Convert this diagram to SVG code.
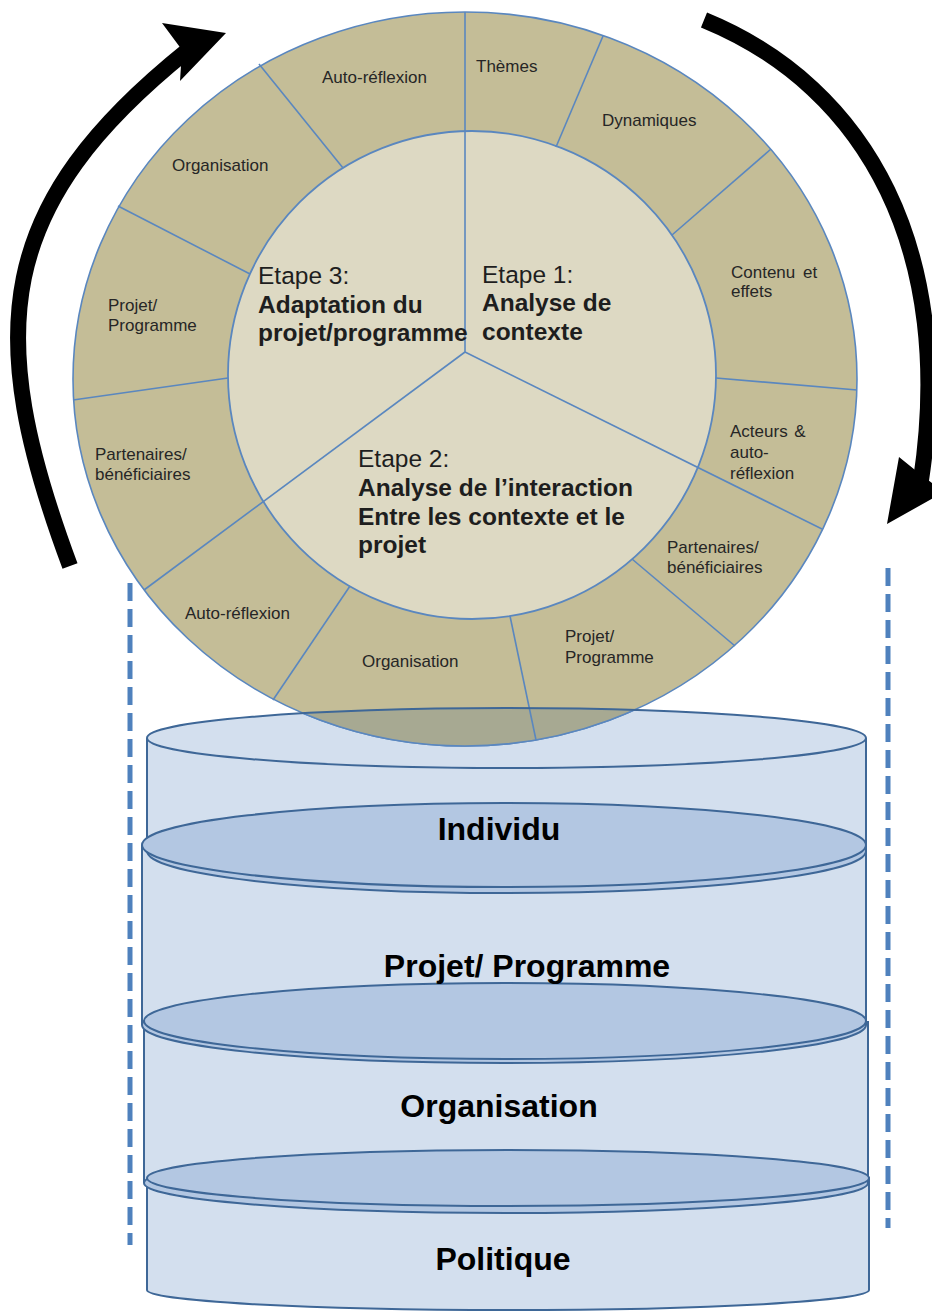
<svg xmlns="http://www.w3.org/2000/svg" width="932" height="1312" viewBox="0 0 932 1312">
<style>
.ring{font-family:"Liberation Sans",Arial,sans-serif;font-size:17px;fill:#262626}
.step{font-family:"Liberation Sans",Arial,sans-serif;font-size:24.5px;fill:#1e1e1e}
.b{font-weight:bold}
.cyl{font-family:"Liberation Sans",Arial,sans-serif;font-size:32px;font-weight:bold;fill:#000;text-anchor:middle}
.body{fill:#D3DFEE;stroke:none}
.side{stroke:#3E6797;stroke-width:2;fill:none}
.top{fill:#B3C7E2;stroke:#3E6797;stroke-width:2}
.div{stroke:#5A87BF;stroke-width:1.6;fill:none}
.dash{stroke:#4F81BD;stroke-width:5;stroke-dasharray:18 8;fill:none}
.arr{stroke:#000;stroke-width:16;fill:none}
</style>
<defs>
<clipPath id="capA"><ellipse cx="506.5" cy="738" rx="359.5" ry="30"/></clipPath>
</defs>
<rect width="932" height="1312" fill="#fff"/>

<g id="cylinders">
<g id="cyl-politique">
<path d="M147,1178 V1290 A361,20 0 0 0 869,1290 V1178 Z" fill="#D3DFEE" stroke="#3E6797" stroke-width="2"/>
</g>
<g id="cyl-organisation">
<rect class="body" x="144" y="1021" width="724" height="162"/>
<path class="side" d="M144,1021 V1183 M868,1021 V1183"/>
</g>
<g id="cyl-projet">
<rect class="body" x="142" y="845" width="724" height="180"/>
<path class="side" d="M142,845 V1025 M866,845 V1025"/>
</g>
<g id="cyl-individu">
<rect class="body" x="147" y="738" width="719" height="113"/>
<path class="side" d="M147,738 V851 M866,738 V851"/>
<ellipse cx="506.5" cy="738" rx="359.5" ry="30" fill="#D3DFEE" stroke="none"/>
</g>
<g id="cyl-caps">
<ellipse class="top" cx="506.5" cy="851" rx="359.5" ry="42"/>
<ellipse class="top" cx="504" cy="845" rx="362" ry="42"/>
<ellipse class="top" cx="504" cy="1025" rx="362" ry="38"/>
<ellipse class="top" cx="505" cy="1021" rx="361" ry="38"/>
<ellipse class="top" cx="506" cy="1183" rx="362" ry="30"/>
<ellipse class="top" cx="508" cy="1178" rx="361" ry="28"/>
</g>
<g id="cyl-labels">
<text class="cyl" x="499" y="840">Individu</text>
<text class="cyl" x="527" y="977">Projet/ Programme</text>
<text class="cyl" x="499" y="1117">Organisation</text>
<text class="cyl" x="503" y="1270">Politique</text>
</g>
</g>

<g id="wheel">
<ellipse cx="465" cy="379" rx="392" ry="367" fill="#C4BD97" stroke="#5A87BF" stroke-width="1.6"/>
<circle cx="472" cy="375" r="244" fill="#DDD9C3" stroke="#5A87BF" stroke-width="1.8"/>
<ellipse cx="465" cy="379" rx="392" ry="367" fill="#A7A992" stroke="#5A87BF" stroke-width="1.6" clip-path="url(#capA)"/>
<g id="wheel-dividers">
<line class="div" x1="556" y1="147" x2="603" y2="36"/>
<line class="div" x1="672" y1="235" x2="771" y2="149"/>
<line class="div" x1="716" y1="378" x2="857" y2="390"/>
<line class="div" x1="465" y1="352" x2="822" y2="529"/>
<line class="div" x1="632" y1="559" x2="735" y2="646"/>
<line class="div" x1="510" y1="616" x2="536" y2="740"/>
<line class="div" x1="350" y1="586" x2="273" y2="700"/>
<line class="div" x1="465" y1="352" x2="144" y2="590"/>
<line class="div" x1="228" y1="378" x2="73" y2="400"/>
<line class="div" x1="250" y1="274" x2="118" y2="206"/>
<line class="div" x1="343" y1="168" x2="259" y2="64"/>
<line class="div" x1="465" y1="352" x2="465" y2="12"/>
</g>
<g id="ring-labels">
<text class="ring" x="322" y="83">Auto-réflexion</text>
<text class="ring" x="476" y="72">Thèmes</text>
<text class="ring" x="602" y="126">Dynamiques</text>
<text class="ring" x="731" y="278" word-spacing="3">Contenu et</text>
<text class="ring" x="731" y="297">effets</text>
<text class="ring" x="730" y="437" word-spacing="2">Acteurs &amp;</text>
<text class="ring" x="730" y="458">auto-</text>
<text class="ring" x="730" y="479">réflexion</text>
<text class="ring" x="667" y="553">Partenaires/</text>
<text class="ring" x="667" y="573">bénéficiaires</text>
<text class="ring" x="565" y="642">Projet/</text>
<text class="ring" x="565" y="663">Programme</text>
<text class="ring" x="362" y="667">Organisation</text>
<text class="ring" x="185" y="619">Auto-réflexion</text>
<text class="ring" x="95" y="460">Partenaires/</text>
<text class="ring" x="95" y="480">bénéficiaires</text>
<text class="ring" x="108" y="311">Projet/</text>
<text class="ring" x="108" y="331">Programme</text>
<text class="ring" x="172" y="171">Organisation</text>
</g>
<g id="step1">
<text class="step" x="482" y="283">Etape 1:</text>
<text class="step b" x="482" y="311">Analyse de</text>
<text class="step b" x="482" y="340">contexte</text>
</g>
<g id="step2">
<text class="step" x="358" y="467">Etape 2:</text>
<text class="step b" x="358" y="496">Analyse de l’interaction</text>
<text class="step b" x="358" y="525">Entre les contexte et le</text>
<text class="step b" x="358" y="553">projet</text>
</g>
<g id="step3">
<text class="step" x="258" y="284">Etape 3:</text>
<text class="step b" x="258" y="313">Adaptation du</text>
<text class="step b" x="258" y="341">projet/programme</text>
</g>
</g>

<g id="cyl-individu-rim">
<ellipse cx="506.5" cy="738" rx="359.5" ry="30" fill="none" stroke="#3E6797" stroke-width="2"/>
</g>

<g id="connectors">
<line class="dash" x1="130" y1="583" x2="130" y2="1245"/>
<line class="dash" x1="888" y1="568" x2="888" y2="1228"/>
<g id="arrow-left">
<path class="arr" d="M70,566 C-17.5,331 -5,205 188,50"/>
<polygon points="226,33 162,23 182,50 180,81" fill="#000"/>
</g>
<g id="arrow-right">
<path class="arr" d="M704,20 C870,88 955,254 921,480"/>
<polygon points="887,524 899,457 920,474 944,492" fill="#000"/>
</g>
</g>
</svg>
